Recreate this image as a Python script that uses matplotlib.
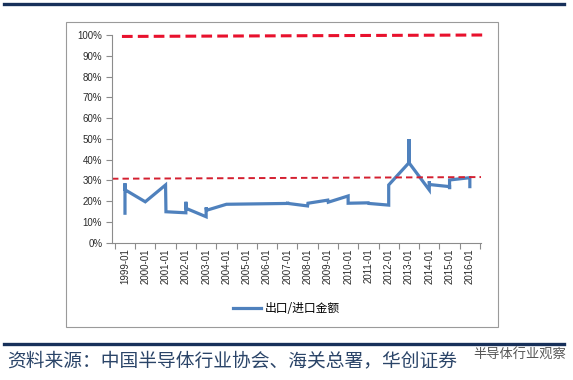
import matplotlib
matplotlib.use("Agg")
import matplotlib.pyplot as plt
from matplotlib.patches import Rectangle
from matplotlib.ticker import FuncFormatter

plt.rcParams["font.family"] = ["Liberation Sans", "Noto Sans CJK SC", "DejaVu Sans"]

# 出口/进口金额 (%), x in years (points share x where the line is vertical)
ratio_x = [1999.0, 1999.0, 1999.0, 2000.0, 2001.0, 2001.02, 2002.0, 2002.0, 2002.02,
           2003.0, 2003.0, 2003.02, 2004.0, 2007.0, 2007.02, 2007.04, 2008.0, 2008.02,
           2009.0, 2009.02, 2010.0, 2010.0, 2011.0, 2011.02, 2012.0, 2012.0,
           2013.0, 2013.0, 2013.0, 2014.0, 2014.0, 2014.02, 2015.0, 2015.0, 2015.0,
           2016.0, 2016.0]
ratio_y = [14.2, 28.6, 25.5, 19.7, 27.8, 14.9, 14.4, 19.7, 16.5,
           12.5, 17.0, 15.6, 18.5, 18.9, 19.6, 18.9, 17.7, 19.0,
           20.5, 19.5, 22.5, 19.0, 19.2, 18.9, 18.1, 27.8,
           38.5, 49.9, 38.5, 25.4, 29.6, 28.0, 27.0, 25.8, 30.2,
           31.3, 27.0]

# hand-drawn reference lines
upper_x = [1998.85, 2016.62]
upper_y = [99.3, 100.0]
lower_x = [1998.36, 2016.55]
lower_y = [30.8, 31.6]

years = list(range(1999, 2017))
year_labels = [f"{y}-01" for y in years]
y_ticks = list(range(0, 101, 10))

W, H = 573, 380
fig = plt.figure(figsize=(W / 100, H / 100), dpi=100)

# chart frame
fig.patches.append(Rectangle((66 / W, 1 - 327 / H), (498 - 66) / W, (327 - 22) / H,
                             transform=fig.transFigure, fill=False,
                             edgecolor="#9a9a9a", lw=0.8))

ax = fig.add_axes([112 / W, 1 - 242.7 / H, (481 - 112) / W, (242.7 - 35) / H])
ax.plot(ratio_x, ratio_y, color="#4F81BD", lw=2.3, solid_joinstyle="miter",
        label="出口/进口金额")
ax.plot(upper_x, upper_y, color="#E8112D", lw=2.2, linestyle=(0, (3.5, 1.7)),
        clip_on=False)
ax.plot(lower_x, lower_y, color="#D42030", lw=1.4, linestyle=(0, (3.3, 2.1)),
        clip_on=False)

ax.set_xlim(1998.36, 2016.55)
ax.set_ylim(0, 100)
ax.set_yticks(y_ticks)
ax.yaxis.set_major_formatter(FuncFormatter(lambda v, p: f"{v:.0f}%"))
ax.set_xticks([y - 0.5 for y in years] + [2016.5])
ax.set_xticklabels([])
ax.set_xticks(years, minor=True)
ax.set_xticklabels(year_labels, minor=True, rotation=90)
ax.tick_params(axis="x", which="minor", length=0, pad=4, labelsize=7, labelcolor="#2b2b2b")
ax.tick_params(axis="x", which="major", length=4, color="#8c8c8c")
ax.tick_params(axis="y", length=4, color="#8c8c8c", labelsize=7, labelcolor="#2b2b2b", pad=3)

for s in ("top", "right"):
    ax.spines[s].set_visible(False)
for s in ("left", "bottom"):
    ax.spines[s].set_color("#8c8c8c")
    ax.spines[s].set_linewidth(0.8)

fig.legend(loc="center", bbox_to_anchor=(286 / W, 1 - 309 / H), frameon=False,
           prop={"family": ["Noto Sans CJK SC"], "size": 8.5}, handlelength=2.4,
           handletextpad=0.3)

# page decorations
fig.add_artist(plt.Line2D([4 / W, 564 / W], [1 - 3.5 / H, 1 - 3.5 / H],
                          color="#17305A", lw=2.4, transform=fig.transFigure))
fig.add_artist(plt.Line2D([4 / W, 564 / W], [1 - 344 / H, 1 - 344 / H],
                          color="#17305A", lw=2.4, transform=fig.transFigure))
fig.text(7 / W, 1 - 361 / H, "资料来源：中国半导体行业协会、海关总署，华创证券",
         family=["Noto Sans CJK SC"], fontsize=13.5, color="#2A4468",
         va="center", ha="left")
fig.text(566 / W, 1 - 355 / H, "半导体行业观察", family=["Noto Sans CJK SC"],
         fontsize=9.5, color="#555555", va="center", ha="right")

fig.savefig("out.png", dpi=100)
